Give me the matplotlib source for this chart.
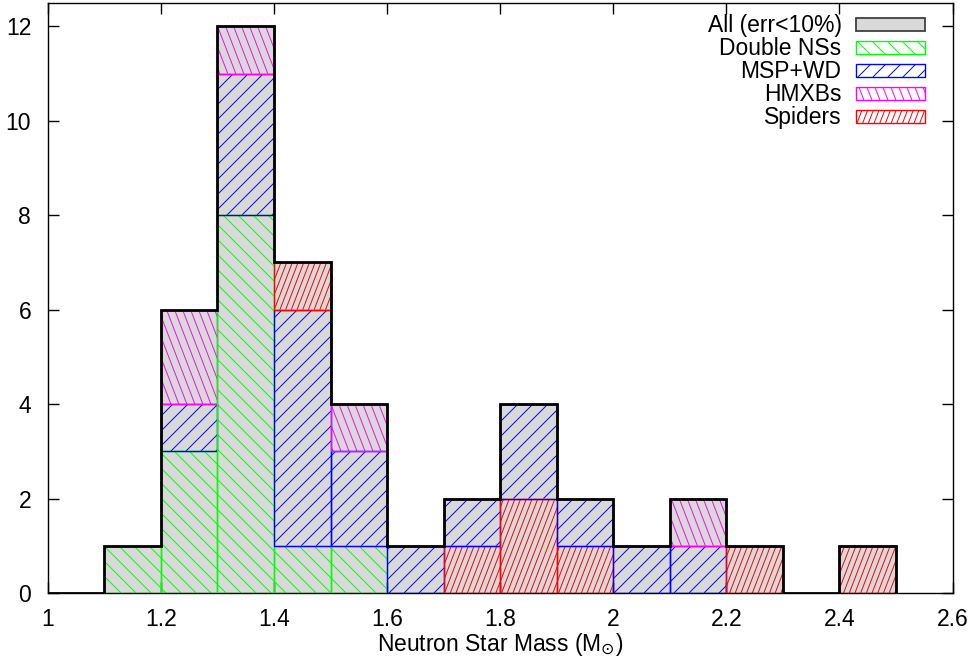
import numpy as np
import matplotlib
matplotlib.use("Agg")
import matplotlib.pyplot as plt
from matplotlib.patches import Rectangle
from matplotlib.collections import LineCollection
from matplotlib.legend_handler import HandlerBase
from matplotlib.ticker import FormatStrFormatter

# histogram bins (left edges, width 0.1 Msun)
bin_left = [1.0, 1.1, 1.2, 1.3, 1.4, 1.5, 1.6, 1.7, 1.8, 1.9, 2.0, 2.1, 2.2, 2.3, 2.4]
bin_width = 0.1

all_counts = [0, 1, 6, 12, 7, 4, 1, 2, 4, 2, 1, 2, 1, 0, 1]
double_ns = [0, 1, 3, 8, 1, 1, 0, 0, 0, 0, 0, 0, 0, 0, 0]
msp_wd = [0, 0, 1, 3, 5, 2, 1, 1, 2, 1, 1, 1, 0, 0, 0]
hmxb = [0, 0, 2, 1, 0, 1, 0, 0, 0, 0, 0, 1, 0, 0, 0]
spiders = [0, 0, 0, 0, 1, 0, 0, 1, 2, 1, 0, 0, 1, 0, 1]
# bins where the spider box sits below the MSP+WD box
spiders_below = [1.7, 1.8, 1.9]

labels = ["All (err<10%)", "Double NSs", "MSP+WD", "HMXBs", "Spiders"]

series = {
    "ns": (double_ns, "#00ff00"),
    "wd": (msp_wd, "#0000ff"),
    "hmxb": (hmxb, "#ff00ff"),
    "spider": (spiders, "#ff0000"),
}
# hatch: (slope, horizontal spacing in pixels)
hatch = {
    "ns": (-1.0, 15.0),
    "wd": (1.0, 15.0),
    "hmxb": (-2.6, 8.0),
    "spider": (2.6, 5.7),
}
gray = "#d9d9d9"

plt.rcParams["font.family"] = ["Liberation Sans", "DejaVu Sans"]
plt.rcParams["mathtext.fontset"] = "dejavusans"
fs = 16.5


def hatch_segments(x0, y0, x1, y1, slope, step):
    # parallel lines x = c + y/slope, c on a grid of `step`
    cs = [x0 - y0 / slope, x0 - y1 / slope, x1 - y0 / slope, x1 - y1 / slope]
    k0 = np.floor(min(cs) / step)
    k1 = np.ceil(max(cs) / step)
    segs = []
    for k in np.arange(k0, k1 + 1):
        c = k * step
        segs.append([(c + y0 / slope, y0), (c + y1 / slope, y1)])
    return segs


class HatchHandler(HandlerBase):
    def __init__(self, color, spec, dpi):
        super().__init__()
        self.color = color
        self.spec = spec
        self.dpi = dpi

    def create_artists(self, legend, orig_handle, xdescent, ydescent,
                       width, height, fontsize, trans):
        x0, y0 = -xdescent, -ydescent
        rect = Rectangle((x0, y0), width, height, facecolor="white",
                         edgecolor=self.color, lw=1.0, transform=trans)
        slope, step = self.spec
        segs = hatch_segments(x0, y0, x0 + width, y0 + height, slope,
                              step * 72.0 / self.dpi)
        lc = LineCollection(segs, colors=self.color, lw=0.7, transform=trans)
        lc.set_clip_path(rect)
        return [rect, lc]


fig = plt.figure(figsize=(9.76, 6.67), dpi=100)
ax = fig.add_axes([0.049, 0.111, 0.927, 0.885])
ax.set_xlim(1.0, 2.6)
ax.set_ylim(0, 12.5)

# grey histogram of the whole sample
ax.bar(bin_left, all_counts, width=bin_width, align="edge", color=gray,
       lw=0, zorder=1)

# hatched sub-samples, stacked per bin
for i, x in enumerate(bin_left):
    order = ["ns", "wd", "hmxb", "spider"]
    if x in spiders_below:
        order = ["spider", "ns", "wd", "hmxb"]
    bottom = 0
    for key in order:
        counts, color = series[key]
        n = counts[i]
        if n == 0:
            continue
        rect = Rectangle((x, bottom), bin_width, n, fill=False,
                         edgecolor=color, lw=1.0, zorder=3)
        ax.add_patch(rect)
        (px0, py0), (px1, py1) = ax.transData.transform(
            [(x, bottom), (x + bin_width, bottom + n)])
        slope, step = hatch[key]
        segs = hatch_segments(px0, py0, px1, py1, slope, step)
        inv = ax.transData.inverted()
        segs = [inv.transform(s) for s in segs]
        lc = LineCollection(segs, colors=color, lw=0.7, zorder=2)
        ax.add_collection(lc)
        lc.set_clip_path(rect)
        bottom += n

# black outline of the full histogram
edges = np.append(bin_left, bin_left[-1] + bin_width)
ax.stairs(all_counts, edges, color="black", lw=2.0, baseline=0, zorder=4)

ax.set_xticks(np.arange(1.0, 2.61, 0.2))
ax.set_yticks(np.arange(0, 13, 2))
ax.xaxis.set_major_formatter(FormatStrFormatter("%g"))
ax.tick_params(direction="in", length=8, width=1, top=True, right=True,
               labelsize=fs, pad=11)
ax.tick_params(axis="y", pad=12)
for sp in ax.spines.values():
    sp.set_linewidth(1.0)
ax.set_xlabel(r"Neutron Star Mass (M$_{\odot}$)", fontsize=fs, labelpad=0)

# legend
h_all = Rectangle((0, 0), 1, 1, facecolor=gray, edgecolor="#404040", lw=1.3)
handles = [h_all]
hmap = {}
for key in ["ns", "wd", "hmxb", "spider"]:
    h = Rectangle((0, 0), 1, 1)
    handles.append(h)
    hmap[h] = HatchHandler(series[key][1], hatch[key], fig.dpi)
ax.legend(handles, labels, handler_map=hmap, loc="upper right",
          bbox_to_anchor=(0.969, 0.980), borderaxespad=0, borderpad=0,
          frameon=False, markerfirst=False, handlelength=2.97,
          handleheight=0.52, labelspacing=0.0, handletextpad=0.65,
          fontsize=fs)

fig.savefig("out.png", dpi=100)
